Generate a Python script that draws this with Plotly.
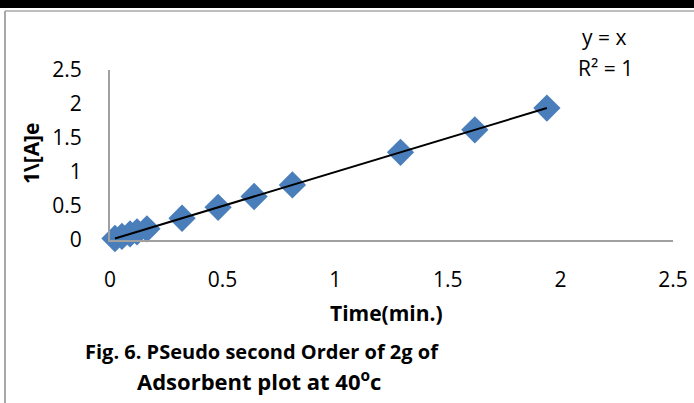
import numpy as np
import plotly.graph_objects as go

# Measured points (time vs 1/[A]e)
time_min = [0.022, 0.053, 0.089, 0.12, 0.164, 0.32, 0.48, 0.64, 0.81, 1.29, 1.62, 1.94]
inv_conc = [0.022, 0.053, 0.089, 0.12, 0.164, 0.32, 0.48, 0.64, 0.81, 1.29, 1.62, 1.94]

x_ticks = [0, 0.5, 1, 1.5, 2, 2.5]
y_ticks = [0, 0.5, 1, 1.5, 2, 2.5]

# Linear trendline y = a*x + b across the data range
a, b = np.polyfit(time_min, inv_conc, 1)
fit_x = [min(time_min), max(time_min)]
fit_y = [a * v + b for v in fit_x]

FONT = "Open Sans"
W, H = 694, 403
L, R, T, B = 110, 21, 70, 163
pw, ph = W - L - R, H - T - B


def px(xp):
    return (xp - L) / pw


def py(yp):
    return (H - B - yp) / ph


fig = go.Figure()
fig.add_trace(go.Scatter(
    x=time_min, y=inv_conc, mode="markers",
    marker=dict(symbol="diamond", size=21, color="#4A7EBB"),
    showlegend=False, cliponaxis=False,
))
fig.add_trace(go.Scatter(
    x=fit_x, y=fit_y, mode="lines",
    line=dict(color="black", width=2),
    showlegend=False,
))

fig.update_layout(
    width=W, height=H,
    margin=dict(l=L, r=R, t=T, b=B, autoexpand=False),
    paper_bgcolor="white", plot_bgcolor="white",
    font=dict(family=FONT, color="black", size=21),
    xaxis=dict(
        range=[0, 2.5], tickvals=x_ticks, ticktext=[f"{v:g}" for v in x_ticks],
        showgrid=False, zeroline=False, showline=True, linecolor="#A0A0A0",
        linewidth=2, ticks="", ticklen=0, tickfont=dict(size=21),
        ticklabelstandoff=20, automargin=False,
    ),
    yaxis=dict(
        range=[0, 2.5], tickvals=y_ticks, ticktext=[f"{v:g}" for v in y_ticks],
        showgrid=False, zeroline=False, showline=True, linecolor="#A0A0A0",
        linewidth=2, ticks="", ticklen=0, tickfont=dict(size=21),
        ticklabelstandoff=22, automargin=False,
    ),
    shapes=[
        # heavy black rule at the top
        dict(type="rect", xref="paper", yref="paper",
             x0=px(0), x1=px(W), y0=py(8), y1=py(-2),
             fillcolor="black", line=dict(width=0), layer="above"),
        # thin frame lines
        dict(type="line", xref="paper", yref="paper",
             x0=px(5), x1=px(W), y0=py(11), y1=py(11),
             line=dict(color="#A8A8A8", width=1.5)),
        dict(type="line", xref="paper", yref="paper",
             x0=px(5), x1=px(5), y0=py(11), y1=py(H + 2),
             line=dict(color="#A8A8A8", width=2)),
    ],
    annotations=[
        dict(text="<b>1\\[A]e</b>", xref="paper", yref="paper",
             x=px(31), y=py(154), textangle=-90, showarrow=False,
             font=dict(size=21, family=FONT), xanchor="center", yanchor="middle"),
        dict(text="<b>Time(min.)</b>", xref="paper", yref="paper",
             x=px(386), y=py(313), showarrow=False,
             font=dict(size=21, family=FONT), xanchor="center", yanchor="middle"),
        dict(text="<b>Fig. 6. PSeudo second Order of 2g of</b>", xref="paper", yref="paper",
             x=px(262), y=py(351), showarrow=False,
             font=dict(size=20, family=FONT), xanchor="center", yanchor="middle"),
        dict(text="<b>Adsorbent plot at 40<sup>o</sup>c</b>", xref="paper", yref="paper",
             x=px(259), y=py(380), showarrow=False,
             font=dict(size=22, family=FONT), xanchor="center", yanchor="middle"),
        dict(text="y = x", xref="paper", yref="paper",
             x=px(604), y=py(37), showarrow=False,
             font=dict(size=21, family=FONT), xanchor="center", yanchor="middle"),
        dict(text="R² = 1", xref="paper", yref="paper",
             x=px(605), y=py(68), showarrow=False,
             font=dict(size=21, family=FONT), xanchor="center", yanchor="middle"),
    ],
)

fig.write_html("out.html")
